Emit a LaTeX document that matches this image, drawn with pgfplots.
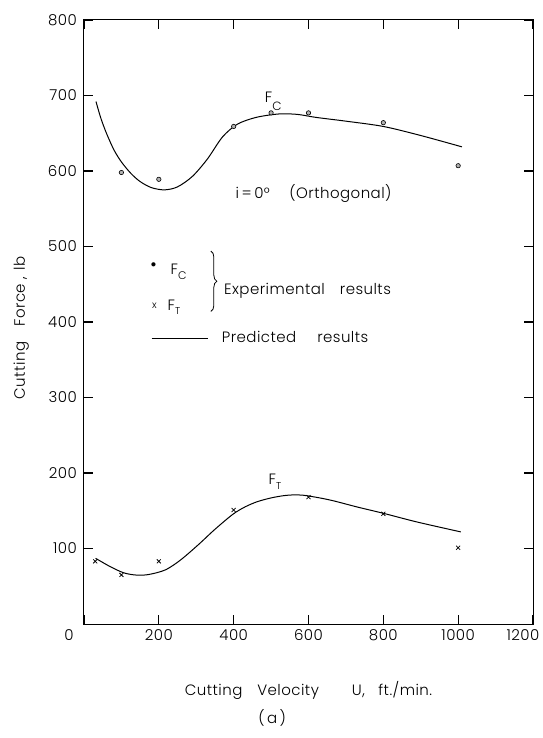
\documentclass[border=0pt]{standalone}
\usepackage{pgfplots}
\pgfplotsset{compat=1.18}
\usepackage{fontspec}
\setmainfont{Poppins}[UprightFont=* Light, LetterSpace=3]
\usetikzlibrary{decorations.pathreplacing}

\begin{document}
\fontsize{15bp}{18bp}\selectfont
\begin{tikzpicture}
\useasboundingbox (-84bp,-114bp) rectangle (459bp,624bp);
\begin{axis}[
  scale only axis,
  width=449bp, height=604bp,
  xmin=0, xmax=1200, ymin=0, ymax=800,
  xtick={0,200,400,600,800,1000,1200},
  xticklabels={\hspace*{-30bp}0,200,400,600,800,1000,\hspace*{-20bp}1200},
  ytick={100,200,...,800},
  /pgf/number format/assume math mode=true,
  xmajorticks=true, ymajorticks=true,
  tick align=inside,
  major tick length=9bp,
  x tick style={draw=black, line width=1.3bp},
  y tick style={draw=black, line width=1.3bp},
  axis line style={black, line width=1bp},
  yticklabel style={xshift=-2bp},
  xlabel={Cutting\hspace{1em}Velocity\hspace{2.2em}U,\hspace{0.9em}ft./min.},
  xlabel style={at={(axis description cs:0.5,0)}, anchor=center, yshift=-66bp},
  ylabel={Cutting\hspace{1em}Force\hspace{0.3em},\hspace{0.4em}lb},
  ylabel style={at={(axis description cs:-0.14,0.49)}, anchor=center},
  clip=false,
]

% Predicted cutting force F_C
\addplot[black, line width=1bp, smooth] coordinates {
  (32,692) (45,670) (60,650) (80,628) (100,612) (125,597) (150,586)
  (180,578) (215,575) (250,579) (290,593) (330,616) (370,645)
  (410,662) (460,671) (520,675.5) (570,675) (620,671) (700,666)
  (800,659) (900,647) (1010,632)
};
% Predicted thrust force F_T
\addplot[black, line width=1bp, smooth] coordinates {
  (31,87) (70,76) (105,68) (135,65) (165,65) (195,68) (219,72)
  (245,80) (271,90) (310,107) (349,125) (397,145) (430,155)
  (463,162) (500,167) (534,170) (560,171) (587,170.5) (630,167)
  (668,163) (730,155) (801,146.5) (891,135) (1007,122)
};
% Experimental F_C
\addplot[only marks, mark=*, mark size=2.2bp,
  mark options={draw=black, fill=gray!60, line width=0.6bp}] coordinates {
  (100,598) (200,589) (400,659) (500,677) (600,677) (800,664) (1000,607)
};
% Experimental F_T
\addplot[only marks, mark=x, mark size=2.8bp,
  mark options={black, line width=0.8bp}] coordinates {
  (30,83) (100,65) (200,83) (400,151) (600,168) (800,146) (1000,101)
};

% curve labels
\node[anchor=base west, inner sep=0pt] at (axis cs:483,691)
  {F\raisebox{-8bp}{\fontsize{12bp}{12bp}\selectfont C}};
\node[anchor=base west, inner sep=0pt] at (axis cs:493,185)
  {F\raisebox{-5bp}{\fontsize{10bp}{10bp}\selectfont T}};
\node[anchor=base west, inner sep=0pt] at (axis cs:405,564)
  {i\,=\,0°\hspace{1.3em}(Orthogonal)};

% key
\node[inner sep=0pt] at (axis cs:186,475) {\scalebox{0.75}{$\bullet$}};
\node[anchor=base west, inner sep=0pt] at (axis cs:231,463)
  {F\raisebox{-5bp}{\fontsize{11bp}{11bp}\selectfont C}};
\node[anchor=base, inner sep=0pt] at (axis cs:188,418)
  {\fontsize{10bp}{10bp}\selectfont x};
\node[anchor=base west, inner sep=0pt] at (axis cs:223,415)
  {F\raisebox{-4bp}{\fontsize{10bp}{10bp}\selectfont T}};
\draw[black, line width=0.8bp, decorate, decoration={brace, amplitude=6bp}]
  (axis cs:339,494) -- (axis cs:339,414);
\node[anchor=base west, inner sep=0pt] at (axis cs:374,436)
  {Experimental\hspace{1em}results};
\draw[black, line width=1bp] (axis cs:181,378) -- (axis cs:331,378);
\node[anchor=base west, inner sep=0pt] at (axis cs:368,373)
  {Predicted\hspace{1.4em}results};

% panel tag
\node at (rel axis cs:0.419,0) [yshift=-94bp] {(\,a\,)};
\end{axis}
\end{tikzpicture}
\end{document}
